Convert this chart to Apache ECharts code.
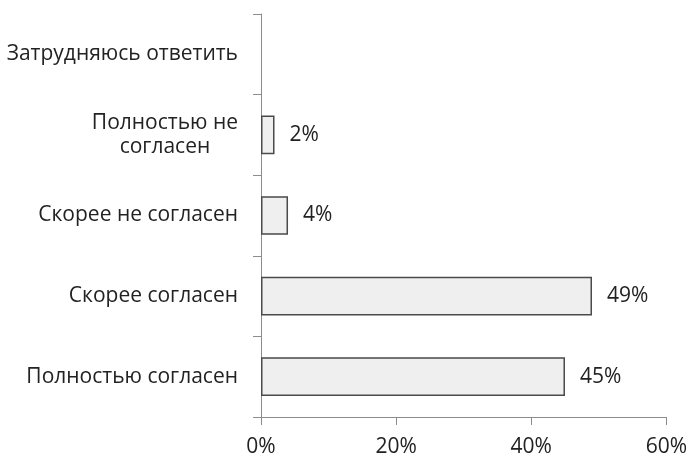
<!DOCTYPE html>
<html><head><meta charset="utf-8">
<script src="https://cdn.jsdelivr.net/npm/echarts@6/dist/echarts.min.js"></script>
<style>html,body{margin:0;padding:0;background:#fff}#c{width:690px;height:459px}</style>
</head><body><div id="c"></div>
<script>
const categories = ['Полностью согласен', 'Скорее согласен', 'Скорее не согласен', 'Полностью не\nсогласен', 'Затрудняюсь ответить'];
const values = [45, 49, 4, 2, null];
const tickLabels = ['0%', '20%', '40%', '60%'];

const chart = echarts.init(document.getElementById('c'));
chart.setOption({
  animation: false,
  grid: { left: 261, right: 22, top: 14, bottom: 42, containLabel: false },
  xAxis: {
    type: 'value', min: 0, max: 60, interval: 20,
    axisLine: { show: true, lineStyle: { color: '#8c8c8c', width: 1 } },
    axisTick: { show: true, length: 8, lineStyle: { color: '#8c8c8c' } },
    splitLine: { show: false },
    axisLabel: { color: '#222', fontFamily: 'Open Sans', fontSize: 21, margin: 20,
      formatter: v => tickLabels[Math.round(v / 20)] }
  },
  yAxis: {
    type: 'category', data: categories,
    axisLine: { show: true, lineStyle: { color: '#8c8c8c', width: 1 } },
    axisTick: { show: true, length: 8, lineStyle: { color: '#8c8c8c' } },
    axisLabel: { color: '#222', fontFamily: 'Open Sans', fontSize: 21, margin: 23, lineHeight: 24,
      formatter: v => '{c|' + v + '}',
      rich: { c: { align: 'center', fontFamily: 'Open Sans', fontSize: 21, color: '#222', lineHeight: 24 } } }
  },
  series: [{
    type: 'bar', data: values, barWidth: '48%',
    itemStyle: { color: '#efefef', borderColor: '#4a4a4a', borderWidth: 1.5 },
    label: { show: true, position: 'right', distance: 15, color: '#222', fontFamily: 'Open Sans', fontSize: 21,
      formatter: p => p.value == null ? '' : p.value + '%' }
  }]
});
</script></body></html>
